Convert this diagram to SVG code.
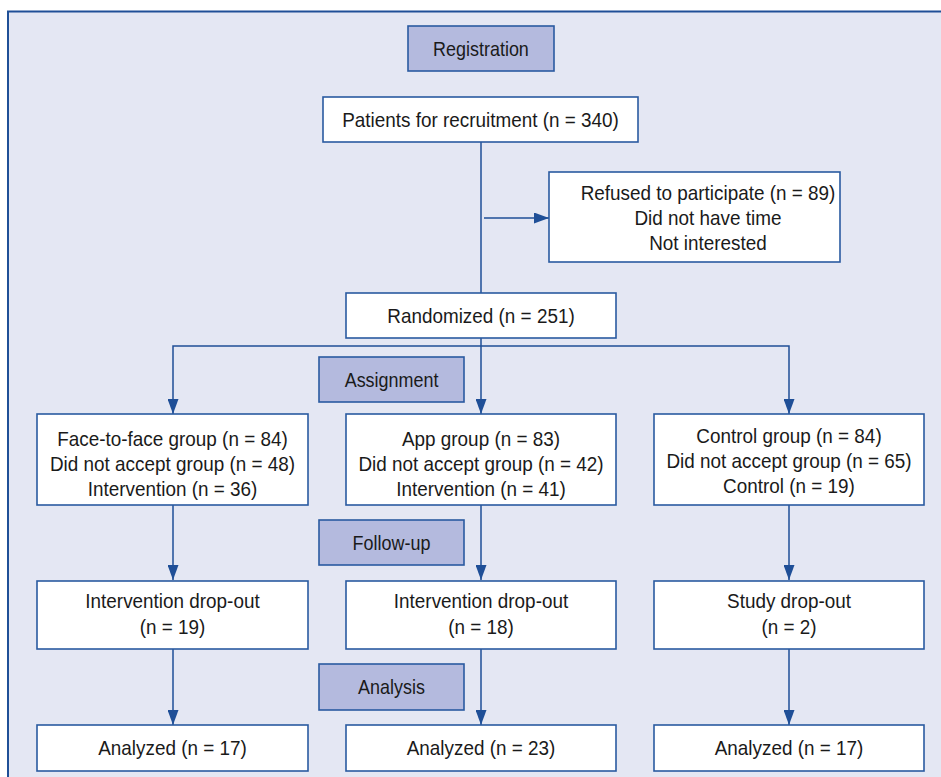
<svg xmlns="http://www.w3.org/2000/svg" width="941" height="777" viewBox="0 0 941 777">
<defs>
<style>
.frame{fill:#e4e7f3;stroke:#1f4f97;stroke-width:2}
.box{fill:#ffffff;stroke:#2a5aa0;stroke-width:1.6}
.lbl{fill:#b4bade;stroke:#2a5aa0;stroke-width:1.6}
.t,.tl{font-family:"Liberation Sans",Arial,sans-serif;fill:#1a1a1a;text-anchor:middle;transform-box:fill-box;transform-origin:center}
.t{font-size:21px;transform:scaleX(0.9)}
.tl{font-size:20.4px;transform:scaleX(0.88)}
.c{fill:none;stroke:#1f4f97;stroke-width:1.5}
</style>
<marker id="ah" viewBox="0 0 15 11" refX="15" refY="5.5" markerWidth="15" markerHeight="11" markerUnits="userSpaceOnUse" orient="auto">
<path d="M0,0 L15,5.5 L0,11 z" fill="#1f4f97"/>
</marker>
</defs>
<rect class="frame" x="8" y="11.5" width="960" height="800"/>

<g id="connectors">
<path class="c" d="M481,142 V293"/>
<path class="c" d="M484,218 H549" marker-end="url(#ah)"/>
<path class="c" d="M481,338 V414" marker-end="url(#ah)"/>
<path class="c" d="M481,346 H173 V414" marker-end="url(#ah)"/>
<path class="c" d="M481,346 H789 V414" marker-end="url(#ah)"/>
<path class="c" d="M173,505 V580" marker-end="url(#ah)"/>
<path class="c" d="M481,505 V580" marker-end="url(#ah)"/>
<path class="c" d="M789,505 V580" marker-end="url(#ah)"/>
<path class="c" d="M173,649 V725" marker-end="url(#ah)"/>
<path class="c" d="M481,649 V725" marker-end="url(#ah)"/>
<path class="c" d="M789,649 V725" marker-end="url(#ah)"/>
</g>

<g id="registration">
<rect class="lbl" x="408" y="26" width="146" height="45"/>
<text class="tl" x="481" y="56">Registration</text>
</g>
<g id="patients">
<rect class="box" x="323" y="97" width="315" height="45"/>
<text class="t" x="480.5" y="127">Patients for recruitment (n = 340)</text>
</g>
<g id="refused">
<rect class="box" x="549" y="172" width="291" height="90"/>
<text class="t" x="708" y="200">Refused to participate (n = 89)</text>
<text class="t" x="708" y="225">Did not have time</text>
<text class="t" x="708" y="250">Not interested</text>
</g>
<g id="randomized">
<rect class="box" x="346" y="293" width="270" height="45"/>
<text class="t" x="481" y="323">Randomized (n = 251)</text>
</g>
<g id="assignment">
<rect class="lbl" x="319" y="357" width="145" height="45"/>
<text class="tl" x="391.5" y="387">Assignment</text>
</g>
<g id="face">
<rect class="box" x="37" y="414" width="271" height="91"/>
<text class="t" x="172.5" y="446">Face-to-face group (n = 84)</text>
<text class="t" x="172.5" y="471">Did not accept group (n = 48)</text>
<text class="t" x="172.5" y="496">Intervention (n = 36)</text>
</g>
<g id="app">
<rect class="box" x="346" y="414" width="270" height="91"/>
<text class="t" x="481" y="446">App group (n = 83)</text>
<text class="t" x="481" y="471">Did not accept group (n = 42)</text>
<text class="t" x="481" y="496">Intervention (n = 41)</text>
</g>
<g id="control">
<rect class="box" x="654" y="414" width="270" height="91"/>
<text class="t" x="789" y="443">Control group (n = 84)</text>
<text class="t" x="789" y="468">Did not accept group (n = 65)</text>
<text class="t" x="789" y="493">Control (n = 19)</text>
</g>
<g id="followup">
<rect class="lbl" x="319" y="520" width="145" height="45"/>
<text class="tl" x="391.5" y="550">Follow-up</text>
</g>
<g id="drop1">
<rect class="box" x="37" y="581" width="271" height="68"/>
<text class="t" x="172.5" y="608">Intervention drop-out</text>
<text class="t" x="172.5" y="634">(n = 19)</text>
</g>
<g id="drop2">
<rect class="box" x="346" y="581" width="270" height="68"/>
<text class="t" x="481" y="608">Intervention drop-out</text>
<text class="t" x="481" y="634">(n = 18)</text>
</g>
<g id="drop3">
<rect class="box" x="654" y="581" width="270" height="68"/>
<text class="t" x="789" y="608">Study drop-out</text>
<text class="t" x="789" y="634">(n = 2)</text>
</g>
<g id="analysis">
<rect class="lbl" x="319" y="664" width="145" height="46"/>
<text class="tl" x="391.5" y="694">Analysis</text>
</g>
<g id="an1">
<rect class="box" x="37" y="725" width="271" height="46"/>
<text class="t" x="172.5" y="755">Analyzed (n = 17)</text>
</g>
<g id="an2">
<rect class="box" x="346" y="725" width="270" height="46"/>
<text class="t" x="481" y="755">Analyzed (n = 23)</text>
</g>
<g id="an3">
<rect class="box" x="654" y="725" width="270" height="46"/>
<text class="t" x="789" y="755">Analyzed (n = 17)</text>
</g>
</svg>
